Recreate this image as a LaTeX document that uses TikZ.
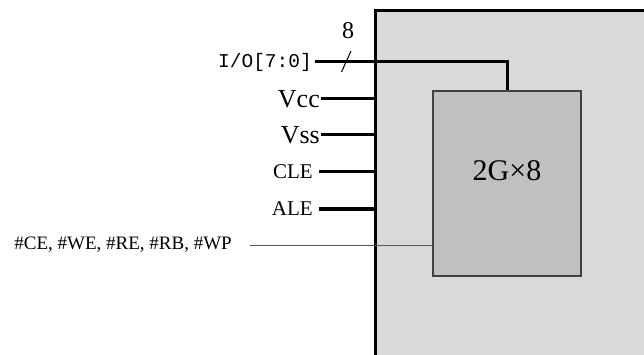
\documentclass[tikz,border=0pt]{standalone}
\usepackage{fontspec}
\setmainfont{Liberation Serif}
\newfontfamily\monofont{Liberation Mono}
\usetikzlibrary{calc}

\tikzset{
    pin/.style={line width=3pt},
    pinlabel/.style={anchor=east, inner sep=1pt},
    thinpin/.style={line width=1pt, draw=lineGrey}
}

\begin{document}
\begin{tikzpicture}[x=1pt, y=-1pt]
    \definecolor{outerFill}{HTML}{D9D9D9}
    \definecolor{chipFill}{HTML}{C0C0C0}
    \definecolor{chipBorder}{HTML}{404040}
    \definecolor{lineGrey}{HTML}{555555}

    % Page size
    \clip (0,0) rectangle (644,355);

    % Package outline
    \draw[line width=3pt, fill=outerFill] (375,11) rectangle (720,420);

    % Memory array
    \node[draw=chipBorder, fill=chipFill, line width=1.2pt, minimum width=148pt,
          minimum height=185pt, inner sep=0pt] (chip) at (507,183.5) {};
    \node[font=\fontsize{30}{30}\selectfont] (size) at ([yshift=13pt]chip.center) {2G×8};

    % Pin labels
    \node[pinlabel, font=\monofont\fontsize{19.5}{19.5}\selectfont] (io) at (313,62) {I/O[7:0]};
    \node[pinlabel, font=\fontsize{26}{26}\selectfont] (vcc) at (321,99) {Vcc};
    \node[pinlabel, font=\fontsize{26}{26}\selectfont] (vss) at (321,135) {Vss};
    \node[pinlabel, font=\fontsize{21}{21}\selectfont] (cle) at (314,172) {CLE};
    \node[pinlabel, font=\fontsize{21}{21}\selectfont] (ale) at (314,209) {ALE};
    \node[pinlabel, font=\fontsize{19}{19}\selectfont] (ctl) at (233,245) {\#CE, \#WE, \#RE, \#RB, \#WP};

    % Bus width
    \coordinate (busA) at (341.5,72);
    \coordinate (busB) at (351,51);
    \draw[line width=1pt] (busA) -- (busB);
    \node[font=\fontsize{24}{24}\selectfont] (width) at (348,31) {8};

    % Pins
    \draw[pin] ([xshift=2pt]io.east) -- (io.east -| chip.north) -- (chip.north);
    \draw[pin] (vcc.east) -- (375,99);
    \draw[pin] (vss.east) -- (375,135);
    \draw[pin] ([xshift=5pt]cle.east) -- (375,172);
    \draw[pin] ([xshift=5pt]ale.east) -- (375,209);
    \draw[thinpin] ([xshift=17pt]ctl.east) -- (chip.west |- ctl.east);
\end{tikzpicture}
\end{document}
